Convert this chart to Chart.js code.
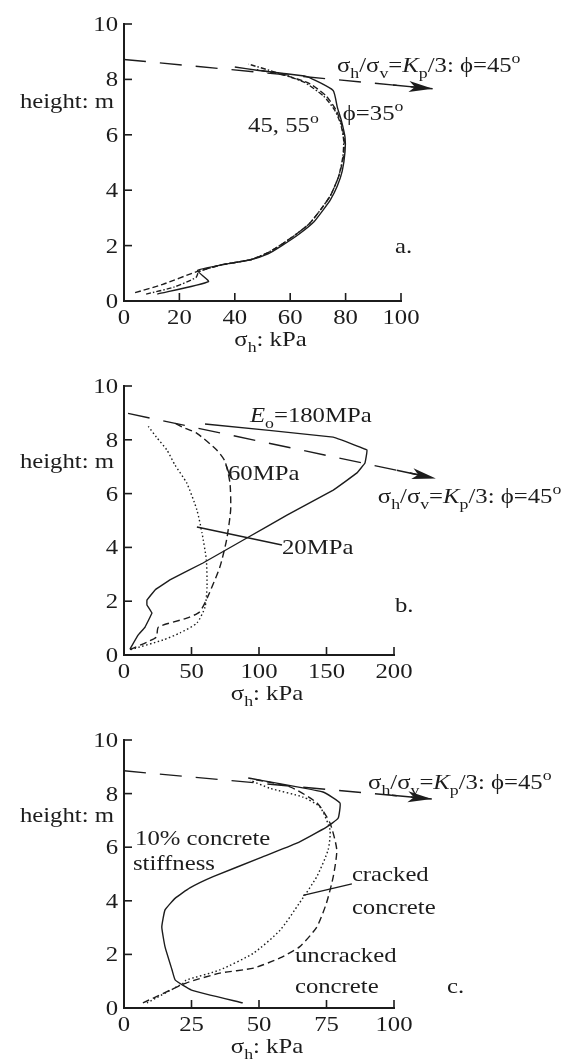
<!DOCTYPE html>
<html>
<head>
<meta charset="utf-8">
<script src="https://cdn.jsdelivr.net/npm/chart.js@4.4.0/dist/chart.umd.min.js"></script>
<style>
  html, body { margin: 0; padding: 0; background: #fff; }
  #wrap { position: relative; width: 585px; height: 1064px; }
  .panel { position: absolute; left: 0; width: 585px; }
  canvas { display: block; }
</style>
</head>
<body>
<div id="wrap">
  <div class="panel" style="top:0"><canvas id="chart-a" width="585" height="355"></canvas></div>
  <div class="panel" style="top:355px"><canvas id="chart-b" width="585" height="355"></canvas></div>
  <div class="panel" style="top:710px"><canvas id="chart-c" width="585" height="354"></canvas></div>
</div>
<script>
// ---- data (sigma_h in kPa, height in m) ----

// a. friction angle
const aKpX    = [0, 111.5];
const aKpY    = [8.72, 7.66];
const aPhi35X = [12, 30.5, 26.5, 35, 46, 52, 57, 63, 68.5, 72, 74.5, 77, 78.8, 79.8, 79.8, 78.5, 77, 75.5, 66, 57, 48, 40];
const aPhi35Y = [0.25, 0.7, 1.1, 1.3, 1.5, 1.7, 2.0, 2.4, 2.85, 3.3, 3.65, 4.15, 4.7, 5.4, 5.9, 6.5, 7.0, 7.6, 8.1, 8.22, 8.33, 8.45];
const aPhi45X = [4, 14, 26, 35, 46, 52, 57, 62, 67, 71, 74.5, 77.5, 79.2, 79.5, 78.5, 76.5, 73, 67, 58, 48];
const aPhi45Y = [0.3, 0.6, 1.05, 1.3, 1.5, 1.75, 2.05, 2.4, 2.8, 3.3, 3.8, 4.5, 5.2, 5.8, 6.4, 6.9, 7.4, 7.85, 8.15, 8.35];
const aPhi55X = [8, 18, 26, 27, 35, 46, 52, 57, 62, 67, 71, 74.5, 77.5, 79, 79.3, 78.2, 76, 72, 65, 55, 45];
const aPhi55Y = [0.25, 0.5, 0.85, 1.05, 1.3, 1.5, 1.75, 2.05, 2.4, 2.8, 3.3, 3.8, 4.5, 5.2, 5.8, 6.4, 6.9, 7.4, 7.9, 8.25, 8.55];

// b. soil stiffness Eo
const bKpX   = [3, 231];
const bKpY   = [8.98, 6.56];
const b180X  = [4.4, 10.4, 15.6, 20.7, 17, 17, 23, 34, 58.5, 91, 120.7, 155, 172.6, 178.5, 180, 155, 60];
const b180Y  = [0.22, 0.74, 1.04, 1.56, 1.86, 2.04, 2.42, 2.79, 3.42, 4.35, 5.2, 6.13, 6.77, 7.14, 7.62, 8.1, 8.59];
const b60X   = [4.4, 17, 24, 25.5, 46.5, 56, 62, 71, 76, 79, 78.5, 74.8, 68.7, 54, 43, 37.8];
const b60Y   = [0.2, 0.48, 0.67, 1.04, 1.37, 1.6, 2.16, 3.27, 4.28, 5.39, 6.39, 7.2, 7.62, 8.24, 8.48, 8.62];
const b20X   = [5, 29, 41.5, 54, 60, 61.5, 61, 57.8, 54, 46.5, 37.8, 31.8, 24, 18];
const b20Y   = [0.2, 0.56, 0.82, 1.19, 1.78, 2.53, 3.53, 4.53, 5.39, 6.39, 7.06, 7.62, 8.1, 8.5];
const b20LeadX = [54, 117];
const b20LeadY = [4.76, 4.09];
const b60LeadX = [75.6, 78.5];
const b60LeadY = [7.06, 6.65];

// c. concrete stiffness
const cKpX     = [0, 114];
const cKpY     = [8.85, 7.8];
const cSoftX   = [44, 25, 19, 17.8, 15.2, 14, 15.2, 19, 24.4, 33, 50.4, 64, 75, 79.3, 80, 73.7, 46];
const cSoftY   = [0.19, 0.67, 1.04, 1.42, 2.28, 3.02, 3.66, 4.1, 4.48, 4.9, 5.6, 6.15, 6.75, 7.08, 7.65, 8.06, 8.58];
const cUncrX   = [7, 23, 35.5, 48, 57.8, 65, 71.4, 75, 77.5, 78.8, 76.3, 71.5, 61.5, 47.8];
const cUncrY   = [0.19, 0.93, 1.3, 1.49, 1.87, 2.28, 3.02, 3.92, 4.9, 5.9, 6.9, 7.65, 8.25, 8.54];
const cCrackX  = [8.5, 22, 23, 35.5, 48, 57.8, 65, 71.4, 75.6, 76.3, 72.6, 66.3, 54, 46.7];
const cCrackY  = [0.19, 0.93, 1.04, 1.42, 2.05, 2.9, 3.92, 4.9, 5.9, 6.64, 7.5, 7.87, 8.2, 8.5];
const cLeadX   = [66.3, 84.4];
const cLeadY   = [4.2, 4.63];

// ---- drawing helpers ----
const FONT = '"Liberation Serif", "Times New Roman", serif';
const FS = 21.5;      // base font size
const SX = 1.15;      // the printed type is a bit wide
const INK = '#1c1c1c';

function xy(xs, ys) {
    return xs.map((x, i) => ({ x: x, y: ys[i] }));
}

// tiny markup: _{sub}  ^{sup}  *italic*
function parseRich(s) {
    const parts = [];
    const re = /_\{([^}]*)\}|\^\{([^}]*)\}|\*([^*]*)\*|([^_^*]+)/g;
    let m;
    while ((m = re.exec(s))) {
        if (m[1] !== undefined) parts.push({ t: m[1], s: 'sub' });
        else if (m[2] !== undefined) parts.push({ t: m[2], s: 'sup' });
        else if (m[3] !== undefined) parts.push({ t: m[3], i: true });
        else parts.push({ t: m[4] });
    }
    return parts;
}

function drawRich(ctx, str, x, y, align) {
    const parts = parseRich(str);
    const fontFor = p => (p.i ? 'italic ' : '') + (p.s ? FS * 0.72 : FS) + 'px ' + FONT;
    let total = 0;
    parts.forEach(p => { ctx.font = fontFor(p); total += ctx.measureText(p.t).width; });
    ctx.save();
    ctx.translate(x, y);
    ctx.scale(SX, 1);
    ctx.fillStyle = INK;
    ctx.textAlign = 'left';
    ctx.textBaseline = 'alphabetic';
    let cx = align === 'right' ? -total : align === 'center' ? -total / 2 : 0;
    parts.forEach(p => {
        ctx.font = fontFor(p);
        const dy = p.s === 'sub' ? 6 : p.s === 'sup' ? -9 : 0;
        ctx.fillText(p.t, cx, dy);
        cx += ctx.measureText(p.t).width;
    });
    ctx.restore();
}

function line(data, dash, extra) {
    return Object.assign({
        data: data,
        showLine: true,
        borderColor: INK,
        borderWidth: 1.4,
        borderDash: dash || [],
        pointRadius: 0,
        fill: false,
        tension: 0.2
    }, extra || {});
}

// ticks inside the frame, labels, titles, notes and the arrow head
const decorPlugin = {
    id: 'decor',
    afterDraw(chart) {
        const ctx = chart.ctx;
        const xs = chart.scales.x, ys = chart.scales.y;
        const area = chart.chartArea;
        const opts = chart.options.plugins.decor;

        ctx.save();
        ctx.strokeStyle = INK;
        ctx.lineWidth = 1.6;
        xs.ticks.forEach(t => {
            const px = xs.getPixelForValue(t.value);
            ctx.beginPath();
            ctx.moveTo(px, area.bottom);
            ctx.lineTo(px, area.bottom - 8);
            ctx.stroke();
            drawRich(ctx, String(t.value), px, area.bottom + 23, 'center');
        });
        ys.ticks.forEach(t => {
            const py = ys.getPixelForValue(t.value);
            ctx.beginPath();
            ctx.moveTo(area.left, py);
            ctx.lineTo(area.left + 8, py);
            ctx.stroke();
            drawRich(ctx, String(t.value), area.left - 6, py + 7, 'right');
        });

        drawRich(ctx, 'σ_{h}: kPa', (area.left + area.right) / 2 + 8, area.bottom + 45, 'center');
        drawRich(ctx, 'height: m', area.left - 10, ys.getPixelForValue(6.95), 'right');

        opts.notes.forEach(n => {
            drawRich(ctx, n.t, xs.getPixelForValue(n.x), ys.getPixelForValue(n.y), 'left');
        });

        // arrow head at the end of the Kp/3 line
        chart.data.datasets.forEach((ds, i) => {
            if (!ds.arrow) return;
            const pts = chart.getDatasetMeta(i).data;
            const a = pts[pts.length - 2], b = pts[pts.length - 1];
            const dx = b.x - a.x, dy = b.y - a.y;
            const len = Math.hypot(dx, dy);
            const ux = dx / len, uy = dy / len;
            ctx.lineWidth = 1.4;
            ctx.beginPath();
            ctx.moveTo(b.x - ux * 40, b.y - uy * 40);
            ctx.lineTo(b.x - ux * 10, b.y - uy * 10);
            ctx.stroke();
            ctx.fillStyle = INK;
            ctx.beginPath();
            ctx.moveTo(b.x, b.y);
            ctx.lineTo(b.x - ux * 24 - uy * 5.5, b.y - uy * 24 + ux * 5.5);
            ctx.lineTo(b.x - ux * 18, b.y - uy * 18);
            ctx.lineTo(b.x - ux * 24 + uy * 5.5, b.y - uy * 24 - ux * 5.5);
            ctx.closePath();
            ctx.fill();
        });
        ctx.restore();
    }
};

function makeChart(id, cfg) {
    const canvas = document.getElementById(id);
    return new Chart(canvas, {
        type: 'scatter',
        data: { datasets: cfg.datasets },
        options: {
            responsive: false,
            animation: false,
            events: [],
            layout: { padding: { left: 0, top: cfg.top, right: 585 - cfg.right, bottom: 0 } },
            scales: {
                x: {
                    type: 'linear', min: 0, max: cfg.xMax,
                    ticks: { display: false, stepSize: cfg.xStep },
                    grid: { display: false },
                    border: { display: true, color: INK, width: 2 },
                    afterFit: s => { s.height = canvas.height - cfg.bottom; }
                },
                y: {
                    type: 'linear', min: 0, max: 10,
                    ticks: { display: false, stepSize: 2 },
                    grid: { display: false },
                    border: { display: true, color: INK, width: 2 },
                    afterFit: s => { s.width = 124; }
                }
            },
            plugins: {
                legend: { display: false },
                tooltip: { enabled: false },
                decor: { notes: cfg.notes }
            }
        },
        plugins: [decorPlugin]
    });
}

const KP_DASH = [22, 14];
const KP_NOTE = 'σ_{h}/σ_{v}=*K*_{p}/3: ϕ=45^{o}';

makeChart('chart-a', {
    top: 24, bottom: 301, right: 401, xMax: 100, xStep: 20,
    datasets: [
        line(xy(aKpX, aKpY), KP_DASH, { tension: 0, clip: false, arrow: true }),
        line(xy(aPhi35X, aPhi35Y), [], { tension: 0.15 }),
        line(xy(aPhi45X, aPhi45Y), [6, 3]),
        line(xy(aPhi55X, aPhi55Y), [5, 2, 1.5, 2])
    ],
    notes: [
        { t: KP_NOTE, x: 76.9, y: 8.27 },
        { t: '45, 55^{o}', x: 44.8, y: 6.1 },
        { t: 'ϕ=35^{o}', x: 79, y: 6.53 },
        { t: 'a.', x: 97.8, y: 1.73 }
    ]
});

makeChart('chart-b', {
    top: 31, bottom: 300, right: 394, xMax: 200, xStep: 50,
    datasets: [
        line(xy(bKpX, bKpY), KP_DASH, { tension: 0, clip: false, arrow: true }),
        line(xy(b180X, b180Y), [], { tension: 0.05 }),
        line(xy(b60X, b60Y), [7, 4]),
        line(xy(b20X, b20Y), [1.5, 2.5]),
        line(xy(b20LeadX, b20LeadY), [], { tension: 0, clip: false }),
        line(xy(b60LeadX, b60LeadY), [], { tension: 0 })
    ],
    notes: [
        { t: '*E*_{o}=180MPa', x: 93.3, y: 8.66 },
        { t: '60MPa', x: 77, y: 6.5 },
        { t: '20MPa', x: 117, y: 3.75 },
        { t: KP_NOTE, x: 188, y: 5.65 },
        { t: 'b.', x: 200.7, y: 1.6 }
    ]
});

makeChart('chart-c', {
    top: 30, bottom: 298, right: 394, xMax: 100, xStep: 25,
    datasets: [
        line(xy(cKpX, cKpY), KP_DASH, { tension: 0, clip: false, arrow: true }),
        line(xy(cSoftX, cSoftY), [], { tension: 0.12 }),
        line(xy(cUncrX, cUncrY), [7, 4]),
        line(xy(cCrackX, cCrackY), [1.5, 2.5]),
        line(xy(cLeadX, cLeadY), [], { tension: 0 })
    ],
    notes: [
        { t: KP_NOTE, x: 90.4, y: 8.17 },
        { t: '10% concrete', x: 4.1, y: 6.08 },
        { t: 'stiffness', x: 3.3, y: 5.15 },
        { t: 'cracked', x: 84.4, y: 4.75 },
        { t: 'concrete', x: 84.4, y: 3.5 },
        { t: 'uncracked', x: 63.3, y: 1.72 },
        { t: 'concrete', x: 63.3, y: 0.56 },
        { t: 'c.', x: 119.6, y: 0.56 }
    ]
});
</script>
</body>
</html>
